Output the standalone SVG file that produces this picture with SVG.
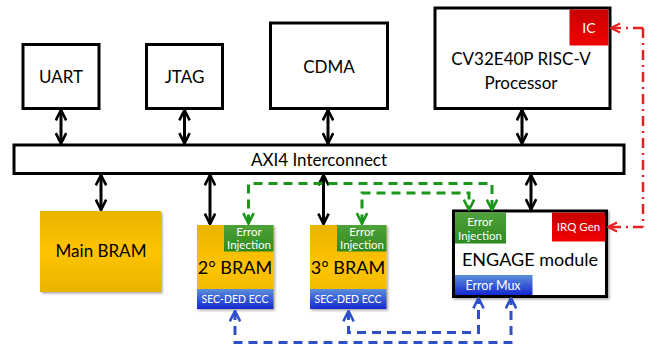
<svg xmlns="http://www.w3.org/2000/svg" width="654" height="346" viewBox="0 0 654 346">
<defs>
<linearGradient id="gold" x1="0" y1="0" x2="0" y2="1"><stop offset="0" stop-color="#E8B400"/><stop offset="0.5" stop-color="#FFC400"/><stop offset="1" stop-color="#E8B400"/></linearGradient>
<linearGradient id="green" x1="0" y1="0" x2="0" y2="1"><stop offset="0" stop-color="#4FA23A"/><stop offset="1" stop-color="#2E8A1E"/></linearGradient>
<linearGradient id="blue" x1="0" y1="0" x2="0" y2="1"><stop offset="0" stop-color="#5C8FDA"/><stop offset="1" stop-color="#1428D0"/></linearGradient>
<linearGradient id="red" x1="0" y1="0" x2="0" y2="1"><stop offset="0" stop-color="#C80000"/><stop offset="1" stop-color="#F00000"/></linearGradient>
<filter id="sh" x="-10%" y="-10%" width="130%" height="130%"><feDropShadow dx="1.5" dy="1.5" stdDeviation="1.2" flood-opacity="0.35"/></filter>
<marker id="ab" viewBox="0 0 10 10" refX="9" refY="5" markerWidth="4.3" markerHeight="4.3" orient="auto-start-reverse" markerUnits="strokeWidth"><path d="M1,1 L9,5 L1,9" fill="none" stroke="#000" stroke-width="2"/></marker>
<marker id="ag" viewBox="0 0 10 10" refX="9" refY="5" markerWidth="4.3" markerHeight="4.3" orient="auto-start-reverse" markerUnits="strokeWidth"><path d="M1,1 L9,5 L1,9" fill="none" stroke="#1A961A" stroke-width="2"/></marker>
<marker id="abl" viewBox="0 0 10 10" refX="9" refY="5" markerWidth="4.3" markerHeight="4.3" orient="auto-start-reverse" markerUnits="strokeWidth"><path d="M1,1 L9,5 L1,9" fill="none" stroke="#3050C8" stroke-width="2"/></marker>
<marker id="ar" viewBox="0 0 10 10" refX="9" refY="5" markerWidth="4.5" markerHeight="4.5" orient="auto" markerUnits="strokeWidth"><path d="M1,1 L9,5 L1,9" fill="none" stroke="#E82020" stroke-width="2"/></marker>
</defs>
<style>
text{font-family:Lato,"Liberation Sans",sans-serif;text-anchor:middle;}
.box{fill:#fff;stroke:#000;stroke-width:3;}
.big{font-size:17px;fill:#000;}
.sm{font-size:11.5px;fill:#fff;}
.bk{stroke:#000;stroke-width:3;fill:none;marker-start:url(#ab);marker-end:url(#ab);}
.gr{stroke:#1A961A;stroke-width:3;fill:none;stroke-dasharray:9 6;marker-start:url(#ag);marker-end:url(#ag);}
.bl{stroke:#3050C8;stroke-width:3;fill:none;stroke-dasharray:9 6;marker-start:url(#abl);marker-end:url(#abl);}
.rd{stroke:#E82020;stroke-width:2.5;fill:none;stroke-dasharray:10 5 2 5;}
</style>
<rect width="654" height="346" fill="#fff"/>
<g id="uart"><rect class="box" x="23" y="44.5" width="76" height="64"/><text class="big" x="61" y="83">UART</text></g>
<g id="jtag"><rect class="box" x="146.5" y="44.5" width="76" height="64"/><text class="big" x="184.5" y="83">JTAG</text></g>
<g id="cdma"><rect class="box" x="270.5" y="23" width="117" height="85.5"/><text class="big" x="329" y="73">CDMA</text></g>
<g id="cpu"><rect class="box" x="435" y="8" width="175" height="100.5"/><rect x="569.5" y="9.5" width="39" height="36" fill="url(#red)"/><text class="sm" x="589" y="33" style="font-size:14px">IC</text><text class="big" x="521" y="65">CV32E40P RISC-V</text><text class="big" x="521" y="89">Processor</text></g>
<g id="axi"><rect class="box" x="14" y="145" width="610" height="28.5"/><text class="big" x="319" y="166">AXI4 Interconnect</text></g>
<g id="mainbram"><rect x="40" y="211" width="121" height="81" fill="url(#gold)" filter="url(#sh)"/><text class="big" x="101" y="257">Main BRAM</text></g>
<g id="bram2"><rect x="197" y="225" width="76.5" height="84" fill="url(#gold)" filter="url(#sh)"/><rect x="224" y="225" width="49.5" height="26.5" fill="url(#green)"/><text class="sm" x="249" y="235.5">Error</text><text class="sm" x="249" y="249">Injection</text><text class="big" x="235" y="274" style="font-size:18px">2° BRAM</text><rect x="197" y="289" width="76.5" height="20" fill="url(#blue)"/><text class="sm" x="235" y="303" style="font-size:10.5px">SEC-DED ECC</text></g>
<g id="bram3"><rect x="310" y="225" width="76.5" height="84" fill="url(#gold)" filter="url(#sh)"/><rect x="337" y="225" width="49.5" height="26.5" fill="url(#green)"/><text class="sm" x="362" y="235.5">Error</text><text class="sm" x="362" y="249">Injection</text><text class="big" x="348" y="274" style="font-size:18px">3° BRAM</text><rect x="310" y="289" width="76.5" height="20" fill="url(#blue)"/><text class="sm" x="348" y="303" style="font-size:10.5px">SEC-DED ECC</text></g>
<g id="engage"><rect class="box" x="453.5" y="211" width="153" height="85.5" filter="url(#sh)"/><rect x="455" y="212.5" width="51" height="31" fill="url(#green)"/><text class="sm" x="480" y="226">Error</text><text class="sm" x="480" y="240">Injection</text><rect x="552" y="212.5" width="53" height="29" fill="url(#red)"/><text class="sm" x="578.5" y="231">IRQ Gen</text><text class="big" x="530" y="266" style="font-size:18px">ENGAGE module</text><rect x="455" y="275" width="77.5" height="20" fill="url(#blue)"/><text class="sm" x="493" y="289.5" style="font-size:12.5px">Error Mux</text></g>
<g id="connectors">
<line class="bk" x1="61" y1="110" x2="61" y2="143.5"/>
<line class="bk" x1="184.5" y1="110" x2="184.5" y2="143.5"/>
<line class="bk" x1="328" y1="110" x2="328" y2="143.5"/>
<line class="bk" x1="522" y1="110" x2="522" y2="143.5"/>
<line class="bk" x1="101" y1="175" x2="101" y2="210"/>
<line class="bk" x1="210" y1="175" x2="210" y2="224"/>
<line class="bk" x1="323.5" y1="175" x2="323.5" y2="224"/>
<line class="bk" x1="531" y1="175" x2="531" y2="209.5"/>
<polyline class="gr" points="248.5,223.5 248.5,183.5 492,183.5 492,210"/>
<polyline class="gr" points="362,223.5 362,193 469,193 469,210"/>
<polyline class="bl" points="235,311 235,342.5 511,342.5 511,298"/>
<polyline class="bl" points="348.5,311 348.5,332.5 478.5,332.5 478.5,298"/>
<polyline class="rd" points="643,28 643,227"/>
<line class="rd" x1="643" y1="28" x2="611" y2="28" style="marker-end:url(#ar)"/>
<line class="rd" x1="643" y1="227" x2="608" y2="227" style="marker-end:url(#ar)"/>
</g>
</svg>
